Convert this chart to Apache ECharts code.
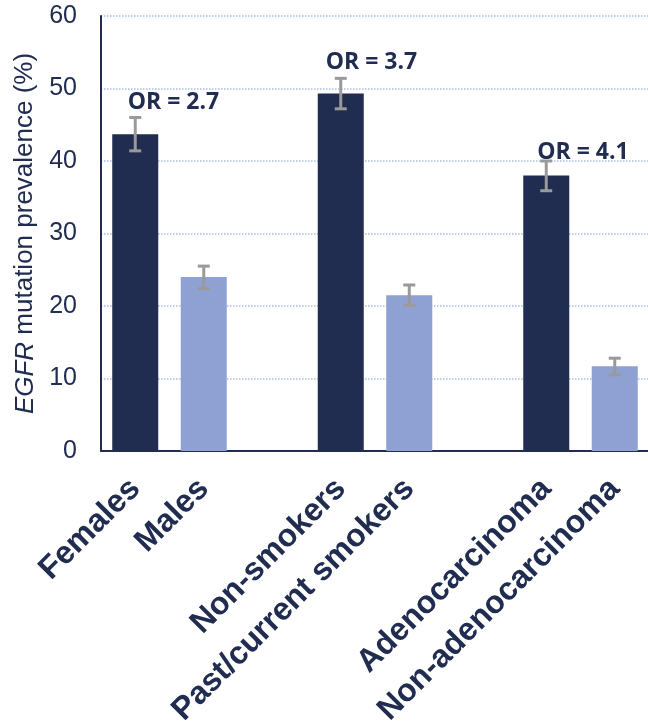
<!DOCTYPE html>
<html>
<head>
<meta charset="utf-8">
<script src="https://cdn.jsdelivr.net/npm/echarts@6/dist/echarts.min.js"></script>
<style>
  html, body { margin: 0; padding: 0; background: #ffffff; }
  #chart { width: 648px; height: 724px; }
</style>
</head>
<body>
<div id="chart"></div>
<script>
// EGFR mutation prevalence by subgroup, with 95% CI whiskers and odds ratios.
const categories = ['Females', 'Males', '', 'Non-smokers', 'Past/current smokers', '', 'Adenocarcinoma', 'Non-adenocarcinoma'];
const prevalence = [43.7, 24.0, null, 49.3, 21.5, null, 38.0, 11.7];
const ciLow      = [41.4, 22.4, null, 47.2, 20.1, null, 35.9, 10.5];
const ciHigh     = [46.0, 25.5, null, 51.4, 22.9, null, 40.0, 12.8];
const isReferenceGroup = [true, false, null, true, false, null, true, false];
const oddsRatioCategory = ['Females', 'Non-smokers', 'Adenocarcinoma'];
const oddsRatioText = ['OR = 2.7', 'OR = 3.7', 'OR = 4.1'];
const yTicks = [0, 10, 20, 30, 40, 50, 60];

// Styling
const NAVY = '#212d50';
const LIGHT = '#8fa1d3';
const WHISKER = '#9a9a9a';
const GRID = '#a9bde8';
const FONT = "'Liberation Sans', Arial, sans-serif";
// per-label nudge (px) relative to the top of the whisker
const orNudge = [[-7.5, -15.5], [-15, -15.5], [-9, -9]];

const chart = echarts.init(document.getElementById('chart'), null, { renderer: 'canvas' });

const barData = prevalence.map((v, i) => v == null ? '-' : {
  value: v,
  itemStyle: { color: isReferenceGroup[i] ? NAVY : LIGHT }
});

const whiskerData = [];
prevalence.forEach((v, i) => {
  if (v != null) whiskerData.push([i, ciLow[i], ciHigh[i]]);
});

const orData = oddsRatioCategory.map((c, k) => {
  const i = categories.indexOf(c);
  return [i, ciHigh[i], k];
});

chart.setOption({
  animation: false,
  backgroundColor: '#ffffff',
  grid: { left: 101, right: -1, top: 16, bottom: 273, containLabel: false, outerBoundsMode: 'none' },
  xAxis: {
    type: 'category',
    data: categories,
    axisLine: { show: true, lineStyle: { color: NAVY, width: 2 } },
    axisTick: { show: false },
    splitLine: { show: false },
    axisLabel: {
      interval: 0,
      rotate: 45,
      align: 'right',
      verticalAlign: 'middle',
      margin: 33,
      color: NAVY,
      fontFamily: FONT,
      fontWeight: 'bold',
      fontSize: 32
    }
  },
  yAxis: {
    type: 'value',
    min: yTicks[0],
    max: yTicks[yTicks.length - 1],
    interval: yTicks[1] - yTicks[0],
    name: '{it|EGFR} mutation prevalence (%)',
    nameLocation: 'middle',
    nameGap: 62,
    nameTextStyle: {
      color: NAVY,
      fontFamily: FONT,
      fontSize: 26,
      rich: {
        it: { fontStyle: 'italic', color: NAVY, fontFamily: FONT, fontSize: 26 }
      }
    },
    axisLine: { show: true, lineStyle: { color: NAVY, width: 2 } },
    axisTick: { show: false },
    axisLabel: {
      margin: 24,
      color: NAVY,
      fontFamily: FONT,
      fontSize: 25
    },
    splitLine: { show: true, lineStyle: { color: GRID, width: 1.5, type: 'dotted' } }
  },
  series: [
    {
      type: 'bar',
      data: barData,
      barWidth: 46,
      z: 2
    },
    {
      type: 'custom',
      data: whiskerData,
      z: 3,
      renderItem: function (params, api) {
        const idx = api.value(0);
        const hi = api.coord([idx, api.value(2)]);
        const lo = api.coord([idx, api.value(1)]);
        const half = 6;
        const style = { stroke: WHISKER, lineWidth: 3 };
        return {
          type: 'group',
          children: [
            { type: 'line', shape: { x1: hi[0], y1: hi[1], x2: lo[0], y2: lo[1] }, style: style },
            { type: 'line', shape: { x1: hi[0] - half, y1: hi[1], x2: hi[0] + half, y2: hi[1] }, style: style },
            { type: 'line', shape: { x1: lo[0] - half, y1: lo[1], x2: lo[0] + half, y2: lo[1] }, style: style }
          ]
        };
      }
    },
    {
      type: 'custom',
      data: orData,
      z: 4,
      renderItem: function (params, api) {
        const k = api.value(2);
        const p = api.coord([api.value(0), api.value(1)]);
        return {
          type: 'text',
          x: p[0] + orNudge[k][0],
          y: p[1] + orNudge[k][1],
          style: {
            text: oddsRatioText[k],
            fill: NAVY,
            font: "bold 23px 'Open Sans', 'Liberation Sans', sans-serif",
            textAlign: 'left',
            textVerticalAlign: 'middle'
          }
        };
      }
    }
  ]
});
</script>
</body>
</html>
